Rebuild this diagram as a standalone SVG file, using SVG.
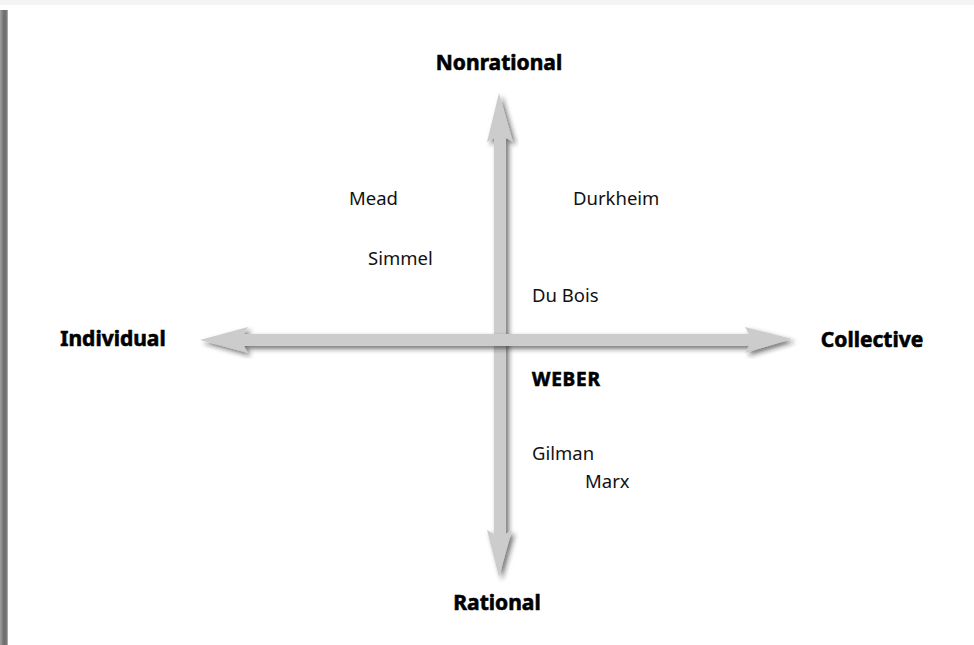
<svg xmlns="http://www.w3.org/2000/svg" width="974" height="645" viewBox="0 0 974 645">
<style>
.ax{font-family:"Noto Sans","Open Sans",sans-serif;font-weight:bold;font-size:21px;fill:#000;stroke:#000;stroke-width:0.6;text-anchor:middle}
.nm{font-family:"Noto Sans","Open Sans",sans-serif;font-size:18.5px;fill:#111}
.wb{font-family:"Noto Sans","Open Sans",sans-serif;font-weight:bold;font-size:19px;letter-spacing:0.8px;fill:#000;stroke:#000;stroke-width:0.6}
.arr{fill:#cccccc;filter:url(#sh)}
</style>
<defs>
<filter id="sh" x="-20%" y="-20%" width="140%" height="140%">
<feDropShadow dx="3" dy="3" stdDeviation="2.5" flood-color="#222" flood-opacity="0.6"/>
</filter>
<linearGradient id="edge" x1="0" y1="0" x2="1" y2="0">
<stop offset="0" stop-color="#a0a0a0"/>
<stop offset="0.5" stop-color="#6c6c6c"/>
<stop offset="0.85" stop-color="#7a7a7a"/>
<stop offset="1" stop-color="#c8c8c8"/>
</linearGradient>
</defs>
<rect x="0" y="0" width="974" height="645" fill="#fff"/>
<rect x="0" y="0" width="974" height="5" fill="#f4f4f4"/>
<rect x="0" y="10" width="8" height="635" fill="url(#edge)"/>
<g id="connectors">
<path id="vertical-axis" class="arr" d="M499,93 L513,142 L506,138 L506,534 L512,530 L499,577 L487,530 L494,534 L494,138 L487,142 Z"/>
<path id="horizontal-axis" class="arr" d="M200,340 L248,327 L244,334 L749,334 L745,327 L792,339 L745,353 L749,346 L244,346 L248,353 Z"/>
</g>
<g id="nonrational"><text class="ax" x="499" y="70">Nonrational</text></g>
<g id="rational"><text class="ax" x="497" y="610">Rational</text></g>
<g id="individual"><text class="ax" x="113" y="346">Individual</text></g>
<g id="collective"><text class="ax" x="872" y="347">Collective</text></g>
<g id="mead"><text class="nm" x="349" y="205">Mead</text></g>
<g id="simmel"><text class="nm" x="368" y="265">Simmel</text></g>
<g id="durkheim"><text class="nm" x="573" y="205">Durkheim</text></g>
<g id="dubois"><text class="nm" x="532" y="302">Du Bois</text></g>
<g id="weber"><text class="wb" x="532" y="386">WEBER</text></g>
<g id="gilman"><text class="nm" x="532" y="460">Gilman</text></g>
<g id="marx"><text class="nm" x="585" y="488">Marx</text></g>
</svg>
